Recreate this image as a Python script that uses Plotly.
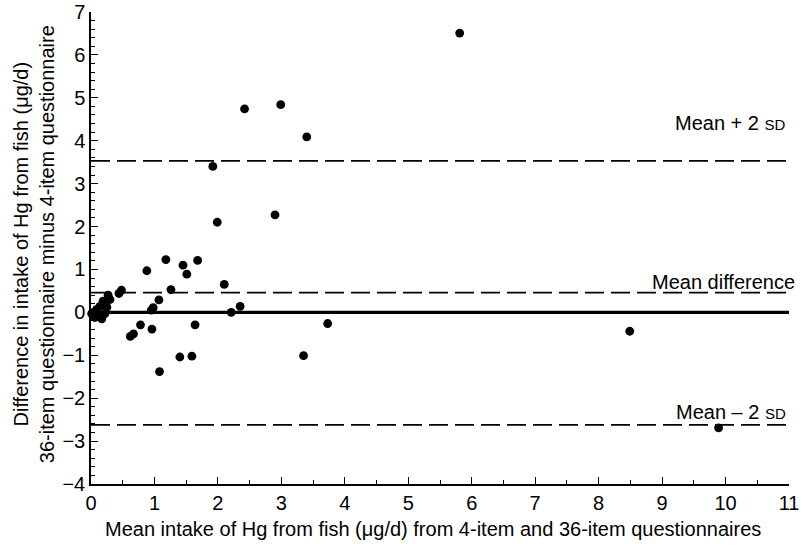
import plotly.graph_objects as go

# Data (x = mean of two questionnaires, y = difference)
mean_intake = [0.01, 0.04, 0.06, 0.09, 0.12, 0.14, 0.17, 0.19, 0.22, 0.25,
               0.27, 0.30, 0.44, 0.48, 0.62, 0.67, 0.78, 0.88, 0.95, 0.96,
               0.98, 1.07, 1.08, 1.18, 1.26, 1.40, 1.45, 1.51, 1.59, 1.64,
               1.68, 1.92, 1.99, 2.10, 2.21, 2.35, 2.42, 2.90, 2.99, 3.35,
               3.40, 3.73, 5.81, 8.49, 9.89]
difference = [-0.03, 0.00, -0.12, 0.07, -0.07, 0.14, -0.15, 0.26, -0.03, 0.12,
              0.40, 0.30, 0.44, 0.52, -0.56, -0.50, -0.29, 0.97, 0.05, -0.39,
              0.11, 0.29, -1.38, 1.23, 0.53, -1.04, 1.10, 0.89, -1.02, -0.29,
              1.21, 3.40, 2.10, 0.65, 0.00, 0.14, 4.74, 2.27, 4.84, -1.01,
              4.09, -0.26, 6.51, -0.44, -2.69]

mean_diff = 0.46
upper_limit = 3.53
lower_limit = -2.62
x_range = [0, 11]
y_range = [-4, 7]
x_ticks = list(range(0, 12))
y_ticks = list(range(-4, 8))
y_tick_labels = [("\u2212" + str(-v)) if v < 0 else str(v) for v in y_ticks]

x_title = "Mean intake of Hg from fish (\u03bcg/d) from 4-item and 36-item questionnaires"
y_title = ("Difference in intake of Hg from fish (\u03bcg/d)<br>"
           "36-item questionnaire minus 4-item questionnaire")

FONT = "Liberation Sans, Arial, sans-serif"
FS = 20

fig = go.Figure()

dash_style = dict(color="black", width=1.8, dash="19px,7px")
for level in (upper_limit, mean_diff, lower_limit):
    fig.add_trace(go.Scatter(x=x_range, y=[level, level], mode="lines",
                             line=dash_style, hoverinfo="skip", showlegend=False))
fig.add_trace(go.Scatter(x=x_range, y=[0, 0], mode="lines",
                         line=dict(color="black", width=3.2),
                         hoverinfo="skip", showlegend=False))

fig.add_trace(go.Scatter(x=mean_intake, y=difference, mode="markers",
                         marker=dict(color="black", size=8.8, line=dict(width=0)),
                         showlegend=False, cliponaxis=False))

sd = "<span style='font-size:15px'>SD</span>"
ann_font = dict(family=FONT, size=FS, color="black")
fig.add_annotation(x=0.9985, y=4.41, xref="paper", yref="y", text="Mean + 2 " + sd,
                   showarrow=False, xanchor="right", yanchor="middle", font=ann_font)
fig.add_annotation(x=1.0115, y=0.70, xref="paper", yref="y", text="Mean difference",
                   showarrow=False, xanchor="right", yanchor="middle", font=ann_font)
fig.add_annotation(x=0.9985, y=-2.33, xref="paper", yref="y", text="Mean \u2013 2 " + sd,
                   showarrow=False, xanchor="right", yanchor="middle", font=ann_font)

# axis titles
fig.add_annotation(x=0.49, y=-0.095, xref="paper", yref="paper", text=x_title,
                   showarrow=False, xanchor="center", yanchor="middle", font=ann_font)
fig.add_annotation(x=-0.0817, y=0.508, xref="paper", yref="paper", text=y_title,
                   textangle=-90, showarrow=False, xanchor="center", yanchor="middle",
                   font=ann_font)

axis_common = dict(showgrid=False, zeroline=False, showline=True, linecolor="black",
                   linewidth=1.5, ticks="inside", ticklen=7, tickwidth=1.2,
                   tickcolor="black", automargin=False, tickfont=dict(size=FS),
                   ticklabeloverflow="allow")

fig.update_layout(
    width=802, height=548,
    margin=dict(l=91, r=13, t=12, b=64),
    paper_bgcolor="white", plot_bgcolor="white",
    font=dict(family=FONT, size=FS, color="black"),
    xaxis=dict(range=x_range, tickvals=x_ticks,
               minor=dict(dtick=0.5, ticks="inside", ticklen=4, tickwidth=1.2, tickcolor="black"),
               **axis_common),
    yaxis=dict(range=y_range, tickvals=y_ticks, ticktext=y_tick_labels,
               minor=dict(dtick=0.2, ticks="inside", ticklen=4, tickwidth=1.2, tickcolor="black"),
               **axis_common),
)

fig.write_html("out.html", config={"displayModeBar": False},
               post_script="document.body.style.margin='0';document.body.style.overflow='hidden';")
